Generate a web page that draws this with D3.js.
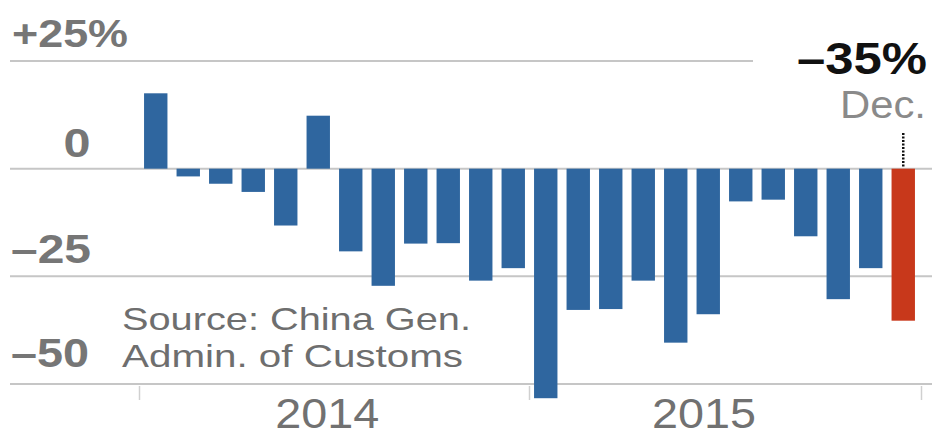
<!DOCTYPE html>
<html>
<head>
<meta charset="utf-8">
<script src="https://cdn.jsdelivr.net/npm/d3@7"></script>
<style>
  html, body { margin: 0; padding: 0; background: #fff; }
  svg { display: block; font-family: "Liberation Sans", Arial, sans-serif; }
</style>
</head>
<body>
<svg id="chart" width="932" height="437"></svg>
<script>
// ---- data ----
const months = ["Jan 2014","Feb 2014","Mar 2014","Apr 2014","May 2014","Jun 2014","Jul 2014","Aug 2014","Sep 2014","Oct 2014","Nov 2014","Dec 2014",
                "Jan 2015","Feb 2015","Mar 2015","Apr 2015","May 2015","Jun 2015","Jul 2015","Aug 2015","Sep 2015","Oct 2015","Nov 2015","Dec 2015"];
const values = [17.5, -1.8, -3.5, -5.4, -13.2, 12.3, -19.2, -27.2, -17.4, -17.3, -26.0, -23.1,
                -53.3, -32.8, -32.6, -26.0, -40.4, -33.8, -7.6, -7.2, -15.7, -30.3, -23.1, -35.3];
const yTicks = [25, 0, -25, -50];
const yTickLabels = ["+25%", "0", "\u201325", "\u201350"];
const years = ["2014", "2015"];
const highlightLabel = "\u201335%";
const highlightMonth = "Dec.";
const sourceLines = ["Source: China Gen.", "Admin. of Customs"];

// ---- scales ----
const svg = d3.select("#chart");
const x = d3.scaleBand().domain(months).range([139.5, 919.5]).paddingInner(0.28).paddingOuter(0.14);
const y = d3.scaleLinear().domain([-50, 25]).range([384, 61]);

const gray = "#767676";

// gridlines
const gridG = svg.append("g");
gridG.selectAll("line").data(yTicks).join("line")
  .attr("x1", 10)
  .attr("x2", d => d === 25 ? 753 : 932)
  .attr("y1", d => y(d)).attr("y2", d => y(d))
  .attr("stroke", "#c6c6c6").attr("stroke-width", 2);

// year ticks
const tickXs = [x.range()[0], x.range()[0] + x.step() * 12, x.range()[1] + 2];
svg.append("g").selectAll("line").data(tickXs).join("line")
  .attr("x1", d => d).attr("x2", d => d)
  .attr("y1", y(-50) + 2).attr("y2", y(-50) + 16)
  .attr("stroke", "#d0d0d0").attr("stroke-width", 1.5);

// bars
svg.append("g").selectAll("rect").data(values).join("rect")
  .attr("x", (d, i) => x(months[i]))
  .attr("width", x.bandwidth())
  .attr("y", d => y(Math.max(0, d)))
  .attr("height", d => Math.abs(y(d) - y(0)))
  .attr("fill", (d, i) => i === values.length - 1 ? "#c8381b" : "#2f669f");

// y labels
const labelSpecs = [
  {x: 12, base: 47, size: 38, len: 116},
  {x: 63.5, base: 157, size: 40, len: 27},
  {x: 11, base: 263, size: 40, len: 80},
  {x: 11, base: 367, size: 40, len: 78}
];
svg.append("g").selectAll("text").data(yTickLabels).join("text")
  .attr("x", (d, i) => labelSpecs[i].x)
  .attr("y", (d, i) => labelSpecs[i].base)
  .attr("font-size", (d, i) => labelSpecs[i].size)
  .attr("font-weight", "bold")
  .attr("fill", gray)
  .attr("textLength", (d, i) => labelSpecs[i].len)
  .attr("lengthAdjust", "spacingAndGlyphs")
  .text(d => d);

// source
svg.append("g").selectAll("text").data(sourceLines).join("text")
  .attr("x", 122)
  .attr("y", (d, i) => 330 + i * 37)
  .attr("font-size", 32)
  .attr("fill", "#6e6e6e")
  .attr("textLength", (d, i) => i === 0 ? 349 : 341)
  .attr("lengthAdjust", "spacingAndGlyphs")
  .text(d => d);

// year labels
const yearOffsets = [5.78, 17.37];
svg.append("g").selectAll("text").data(years).join("text")
  .attr("x", (d, i) => x.range()[0] + x.step() * yearOffsets[i] - 52)
  .attr("y", 428)
  .attr("font-size", 42)
  .attr("fill", "#717171")
  .attr("textLength", 104)
  .attr("lengthAdjust", "spacingAndGlyphs")
  .text(d => d);

// highlight annotation
const lastX = x(months[months.length - 1]) + x.bandwidth() / 2;
svg.append("line")
  .attr("x1", lastX).attr("x2", lastX)
  .attr("y1", 133).attr("y2", y(0) - 1)
  .attr("stroke", "#111").attr("stroke-width", 2.5)
  .attr("stroke-dasharray", "2,1.5");

svg.append("text")
  .attr("x", 797).attr("y", 74)
  .attr("font-size", 44).attr("font-weight", "bold").attr("fill", "#111")
  .attr("textLength", 130).attr("lengthAdjust", "spacingAndGlyphs")
  .text(highlightLabel);

svg.append("text")
  .attr("x", 840).attr("y", 118)
  .attr("font-size", 39).attr("fill", "#8a8a8a")
  .attr("textLength", 86).attr("lengthAdjust", "spacingAndGlyphs")
  .text(highlightMonth);
</script>
</body>
</html>
